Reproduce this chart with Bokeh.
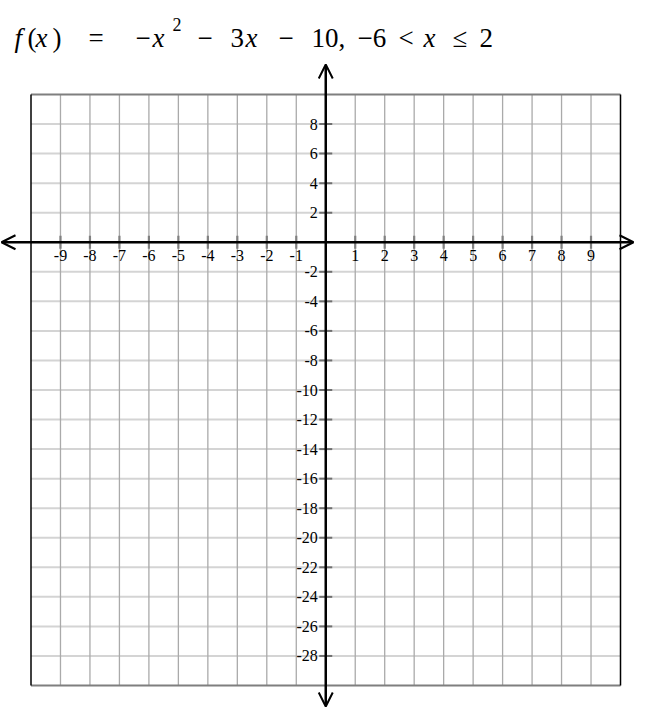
import math
from bokeh.plotting import figure
from bokeh.models import Range1d, Label, Arrow, OpenHead, ColumnDataSource
from bokeh.embed import file_html
from bokeh.resources import INLINE

# ---- data ----
grid_x = [-10, -9, -8, -7, -6, -5, -4, -3, -2, -1, 0, 1, 2, 3, 4, 5, 6, 7, 8, 9, 10]
grid_y = [-30, -28, -26, -24, -22, -20, -18, -16, -14, -12, -10, -8, -6, -4, -2, 0, 2, 4, 6, 8, 10]
x_ticks = [-9, -8, -7, -6, -5, -4, -3, -2, -1, 1, 2, 3, 4, 5, 6, 7, 8, 9]
x_tick_labels = ["-9", "-8", "-7", "-6", "-5", "-4", "-3", "-2", "-1",
                 "1", "2", "3", "4", "5", "6", "7", "8", "9"]
y_ticks = [8, 6, 4, 2, -2, -4, -6, -8, -10, -12, -14, -16, -18, -20, -22, -24, -26, -28]
y_tick_labels = ["8", "6", "4", "2", "-2", "-4", "-6", "-8", "-10", "-12", "-14", "-16",
                 "-18", "-20", "-22", "-24", "-26", "-28"]
x_min, x_max = -10, 10
y_min, y_max = -30, 10

# ---- layout (pixels) ----
W, H = 634, 708
left_px, right_px = 30.5, 620.0   # canvas x of x_min / x_max
top_px, bot_px = 94.0, 685.0      # canvas y (from top) of y_max / y_min
sx = (right_px - left_px) / (x_max - x_min)
sy = (bot_px - top_px) / (y_max - y_min)
xr0 = x_min - left_px / sx
xr1 = x_min + (W - left_px) / sx
yr1 = y_max + top_px / sy
yr0 = y_max - (H - top_px) / sy

p = figure(width=W, height=H, output_backend="svg", toolbar_location=None,
           x_range=Range1d(xr0, xr1), y_range=Range1d(yr0, yr1),
           x_axis_type=None, y_axis_type=None, min_border=0,
           background_fill_color="white", border_fill_color="white")
p.outline_line_color = None
p.grid.visible = False

# horizontal grid lines
hy = [g for g in grid_y if g not in (y_min, y_max)]
p.segment(x0=[x_min] * len(hy), x1=[x_max] * len(hy), y0=hy, y1=hy,
          line_color="#d4d4d4", line_width=2)
# vertical grid lines
vx = [g for g in grid_x if g not in (x_min, x_max)]
p.segment(x0=vx, x1=vx, y0=[y_min] * len(vx), y1=[y_max] * len(vx),
          line_color="#aaaaaa", line_width=1.3)
# borders
p.segment(x0=[x_min, x_min], x1=[x_max, x_max], y0=[y_min, y_max], y1=[y_min, y_max],
          line_color="#7f7f7f", line_width=2.2)
p.segment(x0=[x_min, x_max], x1=[x_min, x_max], y0=[y_min, y_min], y1=[y_max, y_max],
          line_color="black", line_width=1.5)

# axes with arrows
ax_l = xr0 + 1 / sx
ax_r = xr0 + (W - 1) / sx
ay_t = y_max + (top_px - 64) / sy
ay_b = y_max - (H - 2 - top_px) / sy
p.add_layout(Arrow(start=OpenHead(size=14, line_width=2), end=OpenHead(size=14, line_width=2),
                   x_start=ax_l, x_end=ax_r, y_start=0, y_end=0,
                   line_width=2.5, line_color="black"))
p.add_layout(Arrow(start=OpenHead(size=14, line_width=2), end=OpenHead(size=14, line_width=2),
                   x_start=0, x_end=0, y_start=ay_b, y_end=ay_t,
                   line_width=2.5, line_color="black"))

# ticks
p.scatter(x=x_ticks, y=[0] * len(x_ticks), marker="dash", size=13, angle=math.pi / 2,
          line_color="#808080", line_width=2.2)
p.scatter(x=[0] * len(y_ticks), y=y_ticks, marker="dash", size=13,
          line_color="#707070", line_width=2)

# tick labels
xs = ColumnDataSource(dict(x=x_ticks, y=[0] * len(x_ticks), t=x_tick_labels))
p.text(x="x", y="y", text="t", source=xs, text_align="center", text_baseline="top",
       y_offset=8, text_font="Liberation Serif", text_font_size="16px", text_color="black")
ys = ColumnDataSource(dict(x=[0] * len(y_ticks), y=y_ticks, t=y_tick_labels))
p.text(x="x", y="y", text="t", source=ys, text_align="right", text_baseline="middle",
       x_offset=-8, text_font="Liberation Serif", text_font_size="16px", text_color="black")

# title pieces: (text, italic, page-x)
title_pieces = [("f", True, 14), ("(", False, 27), ("x", True, 35), (")", False, 52),
                ("=", False, 88), ("\u2212", False, 135), ("x", True, 152),
                ("\u2212", False, 197), ("3", False, 230), ("x", True, 245),
                ("\u2212", False, 278), ("10,", False, 311), ("\u22126", False, 357),
                ("<", False, 398), ("x", True, 423), ("\u2264", False, 452), ("2", False, 479)]
base = H - 37
for t, it, px in title_pieces:
    p.add_layout(Label(x=px, y=base, x_units="screen", y_units="screen", text=t,
                       text_font="Liberation Serif", text_font_size="27px",
                       text_font_style="italic" if it else "normal",
                       text_baseline="alphabetic", text_color="black"))
p.add_layout(Label(x=172, y=H - 24, x_units="screen", y_units="screen", text="2",
                   text_font="Liberation Serif", text_font_size="18px",
                   text_baseline="alphabetic", text_color="black"))

open("out.html", "w").write(file_html(p, INLINE))
